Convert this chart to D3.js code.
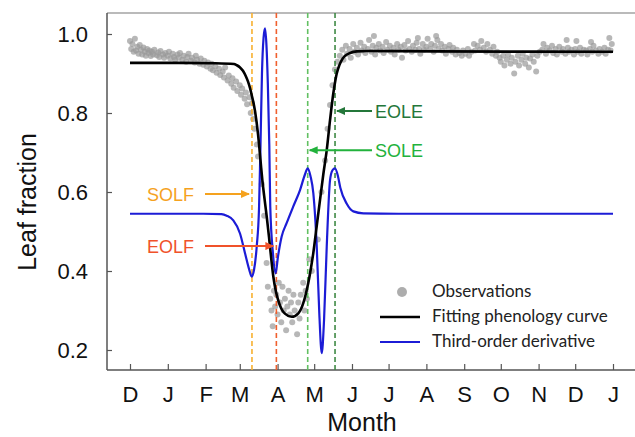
<!DOCTYPE html>
<html>
<head>
<meta charset="utf-8">
<script src="https://cdn.jsdelivr.net/npm/d3@7"></script>
<style>
  body { margin: 0; background: #fff; }
  svg { display: block; }
  .arial { font-family: "Liberation Sans", Arial, Helvetica, sans-serif; }
</style>
</head>
<body>
<svg width="635" height="437"></svg>
<script>
// x values are days counted from 1 December
const monthDays = [0, 31, 62, 90, 121, 151, 182, 212, 243, 274, 304, 335, 365, 396];
const monthLabels = ["D", "J", "F", "M", "A", "M", "J", "J", "A", "S", "O", "N", "D", "J"];
const yTicks = [0.2, 0.4, 0.6, 0.8, 1.0];

// fitted phenology curve [day, leaf fraction]
const fitCurve = [
  [0, 0.927], [40, 0.927], [70, 0.926], [85.3, 0.924], [87.5, 0.921], [90, 0.916], [92.6, 0.907],
  [94.7, 0.895], [96.7, 0.88], [98.5, 0.862], [99.8, 0.845], [102.5, 0.805], [105, 0.745],
  [107, 0.68], [108.5, 0.63], [110, 0.59], [112, 0.54], [114, 0.485], [115.5, 0.44],
  [117.5, 0.386], [119.5, 0.35], [121.6, 0.325], [124, 0.305], [127, 0.292], [132.6, 0.284],
  [138, 0.293], [142, 0.318], [144, 0.34], [146.2, 0.37], [148.5, 0.41], [150.3, 0.446],
  [153, 0.512], [155.8, 0.58], [158.5, 0.645], [161.3, 0.706], [164, 0.782], [166.7, 0.85],
  [168.5, 0.885], [169.5, 0.9], [171.5, 0.92], [173.6, 0.934], [176, 0.944], [180.4, 0.952],
  [186, 0.956], [194, 0.957], [250, 0.956], [396, 0.955]
];

// third-order derivative (drawn on the same axis)
const thirdDeriv = [
  [0, 0.545], [60, 0.545], [75, 0.544], [79.3, 0.54], [84.7, 0.528], [90.2, 0.495], [94.3, 0.445],
  [97.8, 0.403], [99.8, 0.386], [101.7, 0.403], [103.9, 0.462], [105.8, 0.56], [107, 0.72],
  [108.2, 0.9], [109.5, 0.99], [110.7, 1.014], [111.9, 0.97], [113, 0.875], [114.2, 0.72],
  [115, 0.563], [117.2, 0.445], [119.4, 0.394], [121.3, 0.436], [124.3, 0.487], [128.4, 0.521],
  [133.8, 0.563], [139.4, 0.605], [143.5, 0.645], [145.7, 0.66], [148, 0.64], [150.3, 0.597],
  [153.1, 0.462], [155.2, 0.293], [157.2, 0.192], [159.1, 0.276], [161.3, 0.462], [164, 0.63],
  [166, 0.655], [168.1, 0.66], [170.5, 0.64], [172.5, 0.61], [177.6, 0.571], [183.1, 0.551],
  [191.3, 0.546], [220, 0.545], [396, 0.545]
];

// observed leaf fraction [day, value]
const observations = [
  [0, 0.982], [1, 0.962], [2, 0.975], [3, 0.955], [4, 0.988], [5, 0.958], [6, 0.968], [7, 0.950],
  [8, 0.972], [9, 0.960], [10, 0.948], [11, 0.966], [12, 0.955], [13, 0.945], [14, 0.962], [15, 0.952],
  [16, 0.958], [17, 0.944], [18, 0.955], [19, 0.948], [20, 0.960], [22, 0.946], [23, 0.953], [24, 0.942],
  [25, 0.957], [27, 0.948], [28, 0.940], [29, 0.952], [31, 0.945], [32, 0.955], [33, 0.938], [35, 0.950],
  [36, 0.942], [37, 0.935], [39, 0.948], [40, 0.940], [41, 0.952], [43, 0.935], [44, 0.945], [46, 0.930],
  [47, 0.942], [48, 0.950], [50, 0.932], [51, 0.940], [53, 0.928], [54, 0.945], [55, 0.935], [57, 0.925],
  [58, 0.938], [60, 0.922], [61, 0.932], [63, 0.918], [64, 0.928], [66, 0.912], [67, 0.925], [68, 0.908],
  [70, 0.918], [71, 0.902], [73, 0.912], [74, 0.896], [76, 0.905], [77, 0.890], [78, 0.915], [80, 0.882],
  [81, 0.895], [83, 0.874], [84, 0.888], [85, 0.864], [87, 0.880], [88, 0.856], [90, 0.870], [91, 0.846],
  [92, 0.862], [94, 0.836], [95, 0.852], [96, 0.822], [98, 0.840], [99, 0.800], [100, 0.825], [101, 0.785],
  [102, 0.760], [104, 0.720], [105, 0.690], [108, 0.62], [110, 0.54], [112, 0.42],
  [113, 0.36], [115, 0.33], [116, 0.30], [117, 0.26], [118, 0.35], [119, 0.31], [120, 0.34], [121, 0.29],
  [122, 0.37], [123, 0.32], [124, 0.27], [125, 0.36], [126, 0.30], [127, 0.33], [128, 0.25], [129, 0.31],
  [130, 0.35], [131, 0.29], [132, 0.32], [133, 0.27], [134, 0.34], [135, 0.30], [137, 0.24], [138, 0.32],
  [139, 0.28], [140, 0.34], [142, 0.37], [143, 0.30], [144, 0.35], [145, 0.33], [147, 0.43], [149, 0.40],
  [154, 0.48], [157, 0.60], [160, 0.68], [162, 0.76], [164, 0.82], [166, 0.87], [168, 0.91], [170, 0.93],
  [172, 0.945], [174, 0.96], [175, 0.935], [177, 0.97], [178, 0.95], [180, 0.962], [181, 0.94], [183, 0.975],
  [184, 0.955], [186, 0.965], [187, 0.948], [189, 0.978], [190, 0.958], [192, 0.968], [193, 0.952], [195, 0.962],
  [196, 0.985], [198, 0.955], [199, 0.97], [200, 0.995], [201, 0.948], [202, 0.965], [204, 0.975], [205, 0.958],
  [207, 0.968], [208, 0.952], [210, 0.98], [211, 0.96], [213, 0.97], [214, 0.955], [216, 0.965], [217, 0.948],
  [219, 0.975], [220, 0.96], [222, 0.968], [223, 0.94], [225, 0.972], [226, 0.958], [228, 0.982], [229, 0.962],
  [231, 0.955], [232, 0.97], [234, 0.96], [235, 0.978], [236, 0.99], [237, 0.962], [238, 0.95], [240, 0.975],
  [241, 0.96], [243, 0.968], [244, 0.988], [246, 0.962], [247, 0.975], [249, 0.955], [250, 0.97], [251, 0.995],
  [252, 0.985], [253, 0.962], [255, 0.975], [256, 0.958], [258, 0.968], [259, 0.95], [261, 0.962], [262, 0.972],
  [264, 0.955], [265, 0.965], [267, 0.948], [268, 0.96], [270, 0.952], [272, 0.945], [273, 0.958], [275, 0.95],
  [277, 0.962], [278, 0.945], [280, 0.955], [282, 0.975], [283, 0.958], [285, 0.97], [287, 0.96], [288, 0.982],
  [290, 0.965], [292, 0.955], [293, 0.975], [295, 0.96], [297, 0.95], [298, 0.968], [300, 0.945], [301, 0.955],
  [303, 0.94], [304, 0.93], [306, 0.945], [307, 0.92], [309, 0.935], [310, 0.948], [312, 0.925], [313, 0.94],
  [315, 0.90], [316, 0.93], [318, 0.945], [319, 0.92], [321, 0.935], [322, 0.95], [324, 0.925], [325, 0.94],
  [327, 0.915], [328, 0.938], [330, 0.948], [331, 0.93], [333, 0.905], [334, 0.945], [336, 0.955], [338, 0.96],
  [339, 0.975], [341, 0.95], [342, 0.965], [344, 0.958], [346, 0.97], [347, 0.952], [349, 0.962], [350, 0.948],
  [352, 0.968], [354, 0.955], [355, 0.962], [357, 0.95], [358, 0.985], [359, 0.965], [360, 0.955], [362, 0.96],
  [364, 0.948], [365, 0.962], [366, 0.982], [367, 0.955], [369, 0.965], [370, 0.95], [372, 0.96], [374, 0.958],
  [375, 0.948], [377, 0.962], [378, 0.98], [379, 0.955], [380, 0.97], [382, 0.958], [384, 0.95], [385, 0.962],
  [387, 0.955], [389, 0.965], [390, 0.95], [392, 0.96], [393, 0.99], [394, 0.958], [395, 0.975]
];

// transition dates and where their arrows point
const markerNames = ["SOLF", "EOLF", "SOLE", "EOLE"];
const markerDays = [100, 120, 145.7, 168.1];
const markerArrowAt = [0.595, 0.463, 0.706, 0.805];
const markerColors = ["#f5a21e", "#f0522a", "#22b23c", "#24773a"];
const markerLineColors = ["#f7b030", "#f0602e", "#62c062", "#3f8a45"];

let svg = d3.select("svg");
const plotLeft = 107, plotTop = 13, plotBottom = 370, plotRight = 640;

let x = d3.scaleLinear().domain([0, 396]).range([130, 613]);
let y = d3.scaleLinear().domain([0.2, 1.0]).range([350, 34]);

// frame
svg.append("line").attr("x1", plotLeft).attr("x2", plotRight).attr("y1", plotTop).attr("y2", plotTop)
  .attr("stroke", "#777").attr("stroke-width", 1.2);
svg.append("line").attr("x1", plotLeft).attr("x2", plotLeft).attr("y1", plotTop).attr("y2", plotBottom)
  .attr("stroke", "#555").attr("stroke-width", 1.5);
svg.append("line").attr("x1", plotLeft).attr("x2", plotRight).attr("y1", plotBottom).attr("y2", plotBottom)
  .attr("stroke", "#555").attr("stroke-width", 1.5);

// axes
let yAxis = svg.append("g")
  .attr("transform", "translate(" + plotLeft + ",0)")
  .call(d3.axisLeft(y).tickValues(yTicks).tickFormat(d3.format(".1f")).tickSize(-5).tickPadding(19));
yAxis.select(".domain").remove();

let xAxis = svg.append("g")
  .attr("transform", "translate(0," + plotBottom + ")")
  .call(d3.axisBottom(x).tickValues(monthDays).tickFormat(function (d, i) { return monthLabels[i]; })
    .tickSize(-6).tickPadding(16));
xAxis.select(".domain").remove();

yAxis.attr("font-family", null).attr("font-size", 22).attr("class", "arial");
xAxis.attr("font-family", null).attr("font-size", 22).attr("class", "arial");
svg.selectAll(".tick line").attr("stroke", "#555").attr("stroke-width", 1.2);
svg.selectAll(".tick text").attr("fill", "#111");

// axis titles
svg.append("text")
  .attr("class", "arial")
  .attr("transform", "translate(36,202) rotate(-90)")
  .attr("text-anchor", "middle")
  .attr("font-size", 25)
  .attr("fill", "#111")
  .text("Leaf fraction");

svg.append("text")
  .attr("class", "arial")
  .attr("x", 362).attr("y", 431)
  .attr("text-anchor", "middle")
  .attr("font-size", 25)
  .attr("fill", "#111")
  .text("Month");

// observations
svg.append("g").selectAll("circle")
  .data(observations)
  .enter().append("circle")
  .attr("cx", function (d) { return x(d[0]); })
  .attr("cy", function (d) { return y(d[1]); })
  .attr("r", 3)
  .attr("fill", "#999")
  .attr("fill-opacity", 0.7);

// vertical dashed lines
svg.append("g").selectAll("line")
  .data(markerDays)
  .enter().append("line")
  .attr("x1", function (d) { return x(d); })
  .attr("x2", function (d) { return x(d); })
  .attr("y1", plotTop).attr("y2", plotBottom)
  .attr("stroke", function (d, i) { return markerLineColors[i]; })
  .attr("stroke-width", 1.6)
  .attr("stroke-dasharray", "5,3");

let line = d3.line()
  .x(function (d) { return x(d[0]); })
  .y(function (d) { return y(d[1]); })
  .curve(d3.curveMonotoneX);

svg.append("path").datum(thirdDeriv)
  .attr("d", line)
  .attr("fill", "none")
  .attr("stroke", "#1c1cd6")
  .attr("stroke-width", 2.2);

svg.append("path").datum(fitCurve)
  .attr("d", line)
  .attr("fill", "none")
  .attr("stroke", "#000")
  .attr("stroke-width", 2.6);

// arrow heads
let defs = svg.append("defs");
markerColors.forEach(function (c, i) {
  defs.append("marker")
    .attr("id", "arrow" + i)
    .attr("markerUnits", "userSpaceOnUse")
    .attr("markerWidth", 9).attr("markerHeight", 8)
    .attr("refX", 8).attr("refY", 4)
    .attr("orient", "auto")
    .append("path")
    .attr("d", "M0,0 L9,4 L0,8 z")
    .attr("fill", c);
});

// annotations: the first two sit left of their line, the last two right
markerNames.forEach(function (name, i) {
  let onLeft = i < 2;
  let ay = y(markerArrowAt[i]);
  let xs = onLeft ? 205 : 372;
  let xe = onLeft ? x(markerDays[i]) - 3 : x(markerDays[i]) + 2;
  svg.append("line")
    .attr("x1", xs).attr("x2", xe).attr("y1", ay).attr("y2", ay)
    .attr("stroke", markerColors[i]).attr("stroke-width", 2)
    .attr("marker-end", "url(#arrow" + i + ")");
  svg.append("text")
    .attr("class", "arial")
    .attr("x", onLeft ? 147 : 375)
    .attr("y", ay + 7)
    .attr("font-size", 18)
    .attr("fill", markerColors[i])
    .text(name);
});

// legend
let legend = svg.append("g").attr("font-family", "Lato, sans-serif").attr("font-size", 17).attr("fill", "#222");
legend.append("circle").attr("cx", 402).attr("cy", 292).attr("r", 5).attr("fill", "#999").attr("fill-opacity", 0.8);
legend.append("text").attr("x", 432).attr("y", 297).text("Observations");
legend.append("line").attr("x1", 380).attr("x2", 420).attr("y1", 317).attr("y2", 317)
  .attr("stroke", "#000").attr("stroke-width", 2.6);
legend.append("text").attr("x", 432).attr("y", 322).text("Fitting phenology curve");
legend.append("line").attr("x1", 380).attr("x2", 420).attr("y1", 342).attr("y2", 342)
  .attr("stroke", "#1c1cd6").attr("stroke-width", 2.2);
legend.append("text").attr("x", 432).attr("y", 347).text("Third-order derivative");
</script>
</body>
</html>
